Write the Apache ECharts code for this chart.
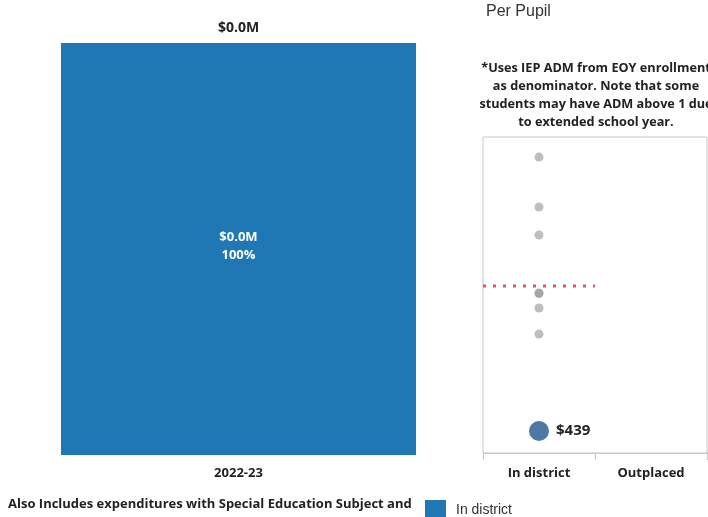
<!DOCTYPE html>
<html>
<head>
<meta charset="utf-8">
<script src="https://cdn.jsdelivr.net/npm/echarts@6/dist/echarts.min.js"></script>
<style>html,body{margin:0;padding:0;background:#fff;}#c{width:708px;height:517px;}</style>
</head>
<body>
<div id="c"></div>
<script>
// Data
var years = ['2022-23'];
var totalSpend = [21950];          // dollars, shown as $0.0M
var sharePct = [100];
var pupilCategories = ['In district', 'Outplaced'];
var peerPerPupil = [5900, 4905, 4345, 3190, 3180, 2890, 2370];
var districtPerPupil = [439];
var referenceLine = [3330];
var legendNames = ['In district'];

var boldFont = '"Open Sans", "Noto Sans", sans-serif';
var chart = echarts.init(document.getElementById('c'));

function fmtM(v) { return '$' + (v / 1e6).toFixed(1) + 'M'; }

var option = {
  animation: false,
  backgroundColor: '#ffffff',
  grid: [
    { left: 61, right: 292, top: 43, bottom: 62 },
    { left: 483, right: 1, top: 137, bottom: 64, show: true, borderColor: '#c8c8c8', borderWidth: 1 }
  ],
  xAxis: [
    {
      type: 'category', gridIndex: 0, data: years,
      axisLine: { show: false }, axisTick: { show: false },
      axisLabel: { fontFamily: boldFont, fontWeight: 'bold', fontSize: 13, color: '#222', margin: 12 }
    },
    {
      type: 'category', gridIndex: 1, data: pupilCategories, boundaryGap: true,
      axisLine: { show: true, lineStyle: { color: '#c8c8c8' } },
      axisTick: { show: true, length: 7, lineStyle: { color: '#c8c8c8' } },
      axisLabel: { fontFamily: boldFont, fontWeight: 'bold', fontSize: 13, color: '#222', margin: 14 }
    },
    { type: 'value', gridIndex: 1, min: 0, max: 2, show: false }
  ],
  yAxis: [
    { type: 'value', gridIndex: 0, min: 0, max: totalSpend[0], show: false },
    { type: 'value', gridIndex: 1, min: 0, max: 6300, show: false }
  ],
  series: [
    {
      type: 'bar', xAxisIndex: 0, yAxisIndex: 0, barWidth: '100%',
      data: totalSpend,
      itemStyle: { color: '#1f77b4' },
      label: {
        show: true, position: 'inside', offset: [0, -3],
        formatter: function (p) { return fmtM(p.value) + '\n' + sharePct[p.dataIndex] + '%'; },
        fontFamily: boldFont, fontWeight: 'bold', fontSize: 13, color: '#fff', lineHeight: 18
      }
    },
    {
      type: 'bar', xAxisIndex: 0, yAxisIndex: 0, barWidth: '100%', barGap: '-100%',
      data: totalSpend, itemStyle: { color: 'transparent' }, silent: true,
      label: {
        show: true, position: 'top', distance: 8,
        formatter: function (p) { return fmtM(p.value); },
        fontFamily: boldFont, fontWeight: 'bold', fontSize: 14, color: '#222'
      }
    },
    {
      type: 'scatter', xAxisIndex: 1, yAxisIndex: 1, symbolSize: 9,
      itemStyle: { color: 'rgba(150,150,150,0.62)', opacity: 1 },
      data: peerPerPupil.map(function (v) { return [0, v]; })
    },
    {
      type: 'line', xAxisIndex: 2, yAxisIndex: 1, symbol: 'none',
      lineStyle: { color: '#e15759', width: 3, type: [3, 7] },
      data: [[0, referenceLine[0]], [1, referenceLine[0]]]
    },
    {
      type: 'scatter', xAxisIndex: 1, yAxisIndex: 1, symbolSize: 20,
      itemStyle: { color: '#4e79a7', opacity: 1 },
      data: districtPerPupil.map(function (v) { return [0, v]; }),
      label: {
        show: true, position: 'right', distance: 7,
        formatter: function (p) { return '$' + p.value[1]; },
        fontFamily: boldFont, fontWeight: 'bold', fontSize: 15, color: '#222'
      }
    }
  ],
  graphic: [
    { type: 'text', left: 486, top: 4, style: { text: 'Per Pupil', font: '16px "Liberation Sans", Arial, sans-serif', fill: '#333' } },
    {
      type: 'text', x: 596, y: 59,
      style: {
        text: '*Uses IEP ADM from EOY enrollment\nas denominator. Note that some\nstudents may have ADM above 1 due\nto extended school year.',
        font: 'bold 12.7px "Open Sans", "Noto Sans", sans-serif', fill: '#222',
        align: 'center', lineHeight: 18
      }
    },
    { type: 'text', left: 8, top: 498, style: { text: 'Also Includes expenditures with Special Education Subject and', font: 'bold 13px "Open Sans", "Noto Sans", sans-serif', fill: '#222' } },
    { type: 'rect', shape: { x: 425, y: 500, width: 21, height: 17 }, style: { fill: '#1f77b4' } },
    { type: 'text', left: 456, top: 503, style: { text: legendNames[0], font: '14px "Liberation Sans", Arial, sans-serif', fill: '#333' } }
  ]
};
chart.setOption(option);
</script>
</body>
</html>
